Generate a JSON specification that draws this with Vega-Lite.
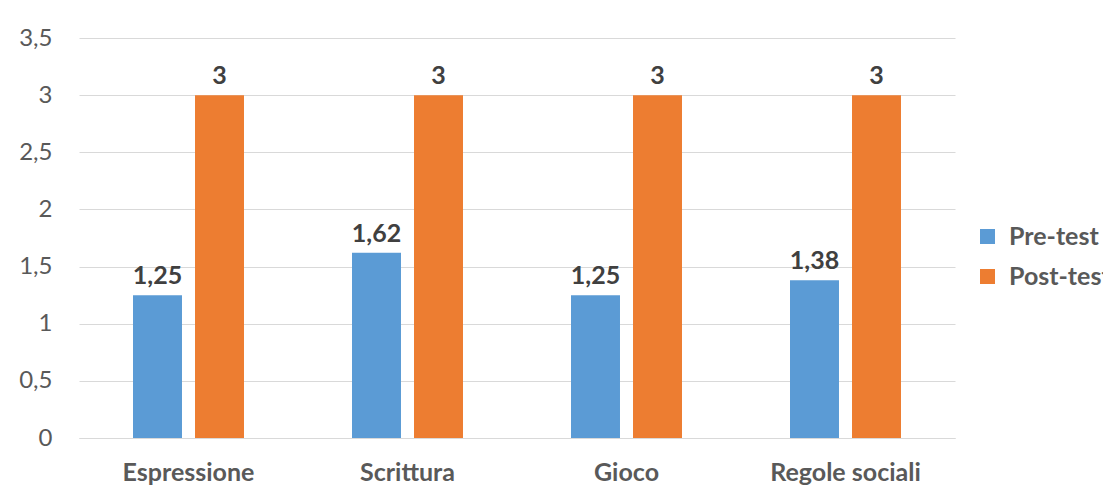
{
  "$schema": "https://vega.github.io/schema/vega-lite/v6.json",
  "width": 876,
  "height": 400,
  "autosize": "none",
  "padding": {"left": 79, "top": 38, "right": 148, "bottom": 52},
  "background": "white",
  "config": {
    "font": "Lato",
    "view": {"stroke": null},
    "locale": {"number": {"decimal": ",", "thousands": ".", "grouping": [3], "currency": ["", " €"]}}
  },
  "data": {
    "values": [
      {"categoria": "Espressione", "test": "Pre-test", "valore": 1.25},
      {"categoria": "Espressione", "test": "Post-test", "valore": 3},
      {"categoria": "Scrittura", "test": "Pre-test", "valore": 1.62},
      {"categoria": "Scrittura", "test": "Post-test", "valore": 3},
      {"categoria": "Gioco", "test": "Pre-test", "valore": 1.25},
      {"categoria": "Gioco", "test": "Post-test", "valore": 3},
      {"categoria": "Regole sociali", "test": "Pre-test", "valore": 1.38},
      {"categoria": "Regole sociali", "test": "Post-test", "valore": 3}
    ]
  },
  "encoding": {
    "x": {
      "field": "categoria", "type": "nominal", "sort": null, "title": null,
      "scale": {"paddingInner": 0, "paddingOuter": 0},
      "axis": {"labelAngle": 0, "labelFontSize": 25, "labelFontWeight": "bold", "labelColor": "#595959", "ticks": false, "domainColor": "#d9d9d9", "labelPadding": 22}
    },
    "xOffset": {
      "field": "test", "type": "nominal", "sort": ["Pre-test", "Post-test"],
      "scale": {"paddingInner": 0.21, "paddingOuter": 0.871}
    },
    "y": {
      "field": "valore", "type": "quantitative", "title": null,
      "scale": {"domain": [0, 3.5]},
      "axis": {"values": [0, 0.5, 1, 1.5, 2, 2.5, 3, 3.5], "format": ".1~f", "labelFontSize": 24, "labelColor": "#595959", "ticks": false, "domain": false, "gridColor": "#d9d9d9", "labelPadding": 27}
    }
  },
  "layer": [
    {
      "mark": {"type": "bar"},
      "encoding": {
        "color": {
          "field": "test", "type": "nominal", "sort": ["Pre-test", "Post-test"],
          "scale": {"domain": ["Pre-test", "Post-test"], "range": ["#5B9BD5", "#ED7D31"]},
          "legend": {"title": null, "orient": "none", "legendX": 896, "legendY": 186, "symbolType": "square", "symbolSize": 225, "symbolStrokeWidth": 0, "labelFontSize": 25, "labelFontWeight": "bold", "labelColor": "#595959", "rowPadding": 14, "labelOffset": 9}
        }
      }
    },
    {
      "mark": {"type": "text", "baseline": "bottom", "dy": -6, "fontSize": 25, "fontWeight": "bold", "color": "#404040"},
      "encoding": {"text": {"field": "valore", "type": "quantitative", "format": ".2~f"}}
    }
  ]
}
